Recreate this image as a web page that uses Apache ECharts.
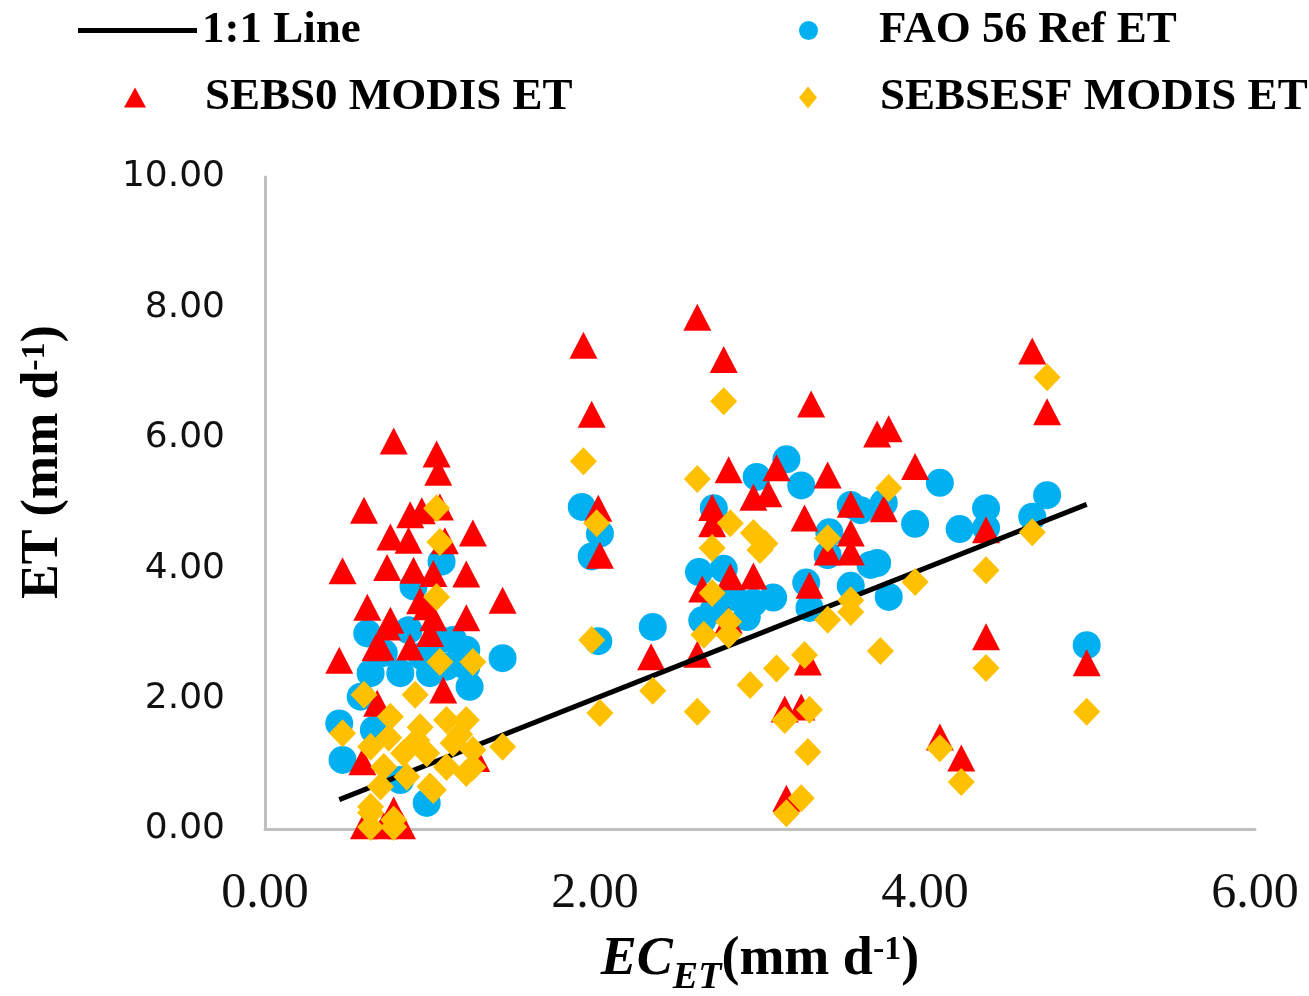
<!DOCTYPE html>
<html>
<head>
<meta charset="utf-8">
<script src="https://cdn.jsdelivr.net/npm/echarts@6/dist/echarts.min.js"></script>
<style>
    html, body { margin: 0; padding: 0; background: #fff; }
    #chart { width: 1309px; height: 996px; }
</style>
</head>
<body>
<div id="chart"></div>
<script>
// 1:1 reference line (x, y)
var lineData = [[0.45, 0.45], [4.98, 4.98]];

// FAO 56 Ref ET  (EC_ET, ET)
var faoData = [
    [0.45, 1.62], [0.47, 1.06], [0.58, 2.03], [0.62, 3.00], [0.64, 2.39], [0.66, 1.52], [0.72, 2.70],
    [0.82, 2.39], [0.82, 0.75], [0.87, 3.05], [0.95, 2.65], [0.98, 0.40], [1.00, 2.39], [1.06, 2.90],
    [1.14, 2.90], [1.10, 2.49], [1.22, 2.75], [1.24, 2.18], [1.22, 2.49], [1.44, 2.62], [1.07, 4.10],
    [0.90, 3.72],
    [1.92, 4.94], [2.03, 4.53], [1.98, 4.18], [2.02, 2.88], [2.35, 3.10],
    [2.72, 4.92], [2.98, 5.40], [3.16, 5.67], [3.25, 5.27], [3.55, 4.97], [3.42, 4.55], [3.41, 4.20],
    [2.63, 3.94], [2.78, 3.99], [2.65, 3.20], [2.72, 3.36], [3.08, 3.55], [2.96, 3.47], [2.92, 3.25],
    [2.84, 3.56], [3.28, 3.78], [3.30, 3.39], [3.55, 3.73], [3.67, 4.05],
    [4.09, 5.31], [4.74, 5.12], [4.37, 4.92], [4.37, 4.62], [4.65, 4.79], [4.21, 4.60], [3.94, 4.68],
    [3.75, 5.00], [3.71, 4.08], [3.78, 3.56], [3.61, 4.89], [4.98, 2.82]
];

// SEBS0 MODIS ET
var sebs0Data = [
    [0.45, 2.59], [0.47, 3.96], [0.60, 4.89], [0.62, 3.40], [0.67, 2.78], [0.68, 1.93], [0.70, 2.79],
    [0.74, 3.10], [0.74, 4.01], [0.76, 4.48], [0.76, 3.20], [0.78, 5.95], [0.78, 0.29], [0.60, 0.05],
    [0.72, 0.05], [0.83, 0.05], [0.87, 4.43], [0.88, 4.82], [0.88, 2.79], [0.90, 3.97], [0.94, 3.50],
    [0.95, 4.88], [0.98, 3.41], [1.00, 3.00], [1.02, 3.92], [1.02, 3.24], [1.04, 5.75], [1.05, 5.47],
    [1.06, 4.94], [1.08, 2.13], [1.09, 4.42], [1.22, 3.91], [1.22, 3.24], [1.26, 4.54], [1.44, 3.51],
    [0.59, 1.03], [1.28, 1.08],
    [1.93, 7.42], [1.98, 6.36], [2.02, 4.92], [2.03, 4.20], [2.34, 2.64],
    [2.62, 7.85], [2.78, 7.20], [3.31, 6.52], [2.62, 2.68], [2.81, 5.51], [3.10, 5.54], [3.41, 5.43],
    [2.96, 5.09], [3.05, 5.14], [2.71, 4.93], [2.71, 4.68], [3.27, 4.77], [3.55, 4.98], [3.55, 4.54],
    [3.41, 4.25], [3.55, 4.25], [2.82, 3.87], [2.96, 3.88], [2.65, 3.68], [3.30, 3.74], [2.81, 3.20],
    [3.29, 2.56], [3.15, 1.84], [3.25, 1.87], [3.16, 0.47],
    [4.65, 7.33], [4.74, 6.40], [3.71, 6.06], [3.78, 6.14], [3.94, 5.56], [3.75, 4.91], [4.37, 4.59],
    [4.37, 2.95], [4.98, 2.55], [4.09, 1.41], [4.22, 1.09]
];

// SEBSESF MODIS ET
var sebsesfData = [
    [1.04, 4.92], [1.06, 4.40], [1.04, 3.56], [1.06, 2.56], [1.26, 2.56], [0.60, 2.06], [0.91, 2.06],
    [0.76, 1.72], [0.47, 1.47], [1.44, 1.26], [0.64, 1.26], [0.94, 1.56], [1.10, 1.67], [1.22, 1.67],
    [1.26, 1.21], [1.22, 0.86], [1.10, 0.95], [0.98, 1.16], [0.84, 1.16], [0.72, 0.95], [0.70, 0.65],
    [0.64, 0.34], [0.64, 0.03], [0.78, 0.03], [1.02, 0.60], [0.92, 1.36], [1.14, 1.32], [0.86, 0.80],
    [1.00, 0.65], [1.26, 0.95], [0.64, 0.25], [0.78, 0.14], [0.75, 1.40], [1.18, 1.45],
    [1.93, 5.64], [2.01, 4.69], [1.98, 2.90], [2.03, 1.78], [2.35, 2.12], [2.62, 1.80], [2.94, 2.21],
    [3.10, 2.46], [3.27, 2.67], [3.15, 1.67], [3.30, 1.83], [3.29, 1.18], [3.16, 0.24], [3.25, 0.47],
    [2.78, 6.56], [2.62, 5.37], [2.82, 4.69], [2.96, 4.54], [3.03, 4.38], [3.00, 4.28], [2.71, 4.31],
    [3.41, 4.46], [2.71, 3.62], [2.81, 3.18], [2.66, 2.98], [2.81, 2.98], [3.41, 3.21], [3.55, 3.51],
    [3.55, 3.33],
    [4.74, 6.93], [3.78, 5.23], [4.65, 4.55], [3.94, 3.79], [4.37, 3.97], [3.73, 2.73], [4.37, 2.47],
    [4.98, 1.80], [4.09, 1.24], [4.22, 0.72]
];

var xRange = [0, 6, 2];    // min, max, interval
var yRange = [0, 10, 2];

// legend label with a blank spacer in front so the text sits far right of the marker
function legendText(gap) {
    return {
        fontFamily: 'Liberation Serif',
        fontWeight: 'bold',
        fontSize: 45,
        color: '#000',
        rich: {
            g: {width: gap, fontSize: 45},
            t: {fontFamily: 'Liberation Serif', fontWeight: 'bold', fontSize: 45, color: '#000'}
        }
    };
}
function spaced(name) {
    return '{g| }{t|' + name + '}';
}

var myChart = echarts.init(document.getElementById('chart'));

var option = {
    animation: false,
    grid: {
        left: 265,
        top: 177,
        width: 990,
        height: 652,
        outerBoundsMode: 'none'
    },
    legend: [
        {
            data: [{name: '1:1 Line', icon: 'rect'}],
            left: 73, top: 3,
            itemWidth: 119, itemHeight: 5,
            textStyle: legendText(0),
            formatter: '{t|{name}}'
        },
        {
            data: [{name: 'FAO 56 Ref ET', icon: 'circle'}],
            left: 794, top: 3,
            itemWidth: 19, itemHeight: 19,
            textStyle: legendText(56),
            formatter: spaced
        },
        {
            data: [{name: 'SEBS0 MODIS ET', icon: 'triangle'}],
            left: 119, top: 70,
            itemWidth: 22, itemHeight: 20,
            textStyle: legendText(54),
            formatter: spaced
        },
        {
            data: [{name: 'SEBSESF MODIS ET', icon: 'diamond'}],
            left: 794, top: 70,
            itemWidth: 18, itemHeight: 22,
            textStyle: legendText(58),
            formatter: spaced
        }
    ],
    xAxis: {
        type: 'value',
        min: xRange[0], max: xRange[1], interval: xRange[2],
        axisLine: {show: true, onZero: false, lineStyle: {color: '#BFBFBF', width: 3}},
        axisTick: {show: false},
        splitLine: {show: false},
        axisLabel: {
            margin: 40,
            fontFamily: 'Liberation Serif',
            fontSize: 50,
            color: '#111',
            formatter: function (v) { return v.toFixed(2); }
        },
        name: '{i|EC}{sub|ET}{b|(mm d}{sup|-1}{b|)}',
        nameLocation: 'middle',
        nameGap: 104,
        nameTextStyle: {
            verticalAlign: 'top',
            rich: {
                i: {fontFamily: 'Liberation Serif', fontWeight: 'bold', fontStyle: 'italic', fontSize: 54, color: '#000'},
                sub: {fontFamily: 'Liberation Serif', fontWeight: 'bold', fontStyle: 'italic', fontSize: 38, color: '#000', verticalAlign: 'bottom', padding: [0, 0, -10, 0]},
                b: {fontFamily: 'Liberation Serif', fontWeight: 'bold', fontSize: 54, color: '#000'},
                sup: {fontFamily: 'Liberation Serif', fontWeight: 'bold', fontSize: 34, color: '#000', verticalAlign: 'top'}
            }
        }
    },
    yAxis: {
        type: 'value',
        min: yRange[0], max: yRange[1], interval: yRange[2],
        axisLine: {show: true, onZero: false, lineStyle: {color: '#BFBFBF', width: 3}},
        axisTick: {show: false},
        splitLine: {show: false},
        axisLabel: {
            margin: 40,
            padding: [6, 0, 0, 0],
            fontFamily: 'DejaVu Sans',
            fontSize: 36,
            color: '#111',
            formatter: function (v) { return v.toFixed(2); }
        },
        name: '{b|ET (mm d}{sup|-1}{b|)}',
        nameLocation: 'middle',
        nameGap: 195,
        nameRotate: 90,
        nameTextStyle: {
            padding: [0, 0, 0, 82],
            rich: {
                b: {fontFamily: 'Liberation Serif', fontWeight: 'bold', fontSize: 52, color: '#000'},
                sup: {fontFamily: 'Liberation Serif', fontWeight: 'bold', fontSize: 34, color: '#000', verticalAlign: 'top'}
            }
        }
    },
    series: [
        {
            name: 'FAO 56 Ref ET',
            type: 'scatter',
            symbol: 'circle',
            symbolSize: 28,
            itemStyle: {color: '#00B0F0', opacity: 1},
            data: faoData,
            z: 2
        },
        {
            name: 'SEBS0 MODIS ET',
            type: 'scatter',
            symbol: 'triangle',
            symbolSize: [28, 27],
            itemStyle: {color: '#FF0000', opacity: 1},
            data: sebs0Data,
            z: 3
        },
        {
            name: '1:1 Line',
            type: 'line',
            showSymbol: false,
            symbol: 'none',
            color: '#000',
            lineStyle: {color: '#000', width: 5},
            data: lineData,
            z: 4
        },
        {
            name: 'SEBSESF MODIS ET',
            type: 'scatter',
            symbol: 'diamond',
            symbolSize: [27, 28],
            itemStyle: {color: '#FFC000', opacity: 1},
            data: sebsesfData,
            z: 5
        }
    ]
};

myChart.setOption(option);
</script>
</body>
</html>
